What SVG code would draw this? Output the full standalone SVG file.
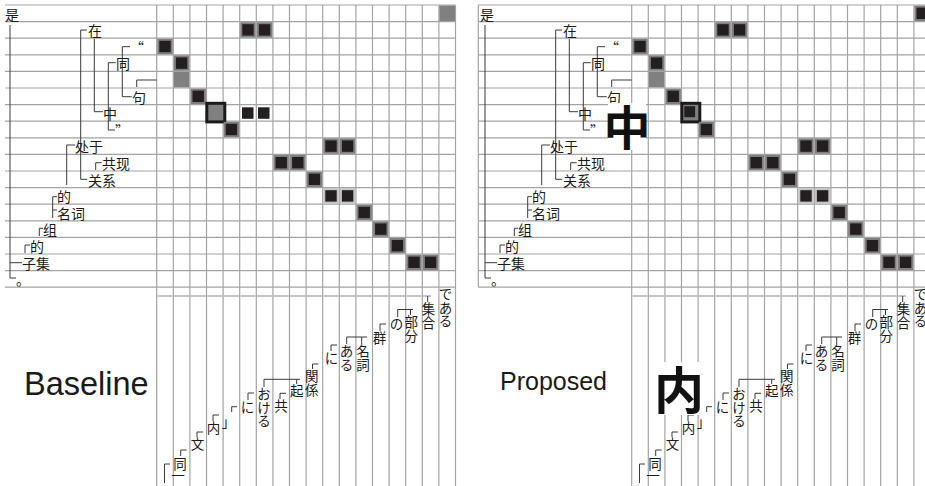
<svg xmlns="http://www.w3.org/2000/svg" width="925" height="486" viewBox="0 0 925 486">
<style>
.bg{fill:#fff}
.g{stroke:#a3a3a3;stroke-width:1.2;fill:none}
.t{stroke:#3a3a3a;stroke-width:1;fill:none}
.tr{stroke:#8a8a8a;stroke-width:1.2;fill:none;stroke-dasharray:15 1.6}
.zh{font-family:"Noto Sans CJK SC","Noto Sans CJK JP",sans-serif;font-size:14px;fill:#1a1a1a}
.jp{font-family:"Noto Sans CJK JP","Noto Sans CJK SC",sans-serif;font-size:13.5px;fill:#1a1a1a;text-anchor:middle}
.b{fill:#231f20;stroke:#7f7f7f;stroke-width:2}
.bl{fill:#231f20;stroke:#c4c4c4;stroke-width:2}
.gr{fill:#808080}
.k{fill:#231f20}
.sel{fill:#808080;stroke:#1a1a1a;stroke-width:3}
.lab{font-family:"Liberation Sans",Arial,sans-serif;fill:#1a1a1a}
.big{font-family:"Noto Sans CJK SC","Noto Sans CJK JP",sans-serif;font-weight:bold;fill:#111;text-anchor:middle}
</style>
<rect class="bg" x="0" y="0" width="925" height="486"/>

<!-- ================= BASELINE PANEL ================= -->
<g id="baseline">
  <g id="L-grid">
    <path class="g" d="M5,5H455.5M5,21.6H455.5M5,38.2H455.5M5,54.8H455.5M5,71.4H455.5M5,88H455.5M5,104.6H455.5M5,121.2H455.5M5,137.8H455.5M5,154.4H455.5M5,171H455.5M5,187.6H455.5M5,204.2H455.5M5,220.8H455.5M5,237.4H455.5M5,254H455.5M5,270.6H455.5M5,287.2H455.5"/>
    <path class="g" d="M156.7,5V486M173.3,5V486M189.9,5V486M206.5,5V486M223.1,5V486M239.7,5V486M256.3,5V486M272.9,5V486M289.5,5V486M306.1,5V486M322.7,5V486M339.3,5V486M355.9,5V486M372.5,5V486M389.1,5V486M405.7,5V486M422.3,5V486M438.9,5V486M455.5,5V486"/>
  </g>
  <g id="L-cells">
    <rect class="gr" x="439.4" y="5.5" width="15.6" height="15.6"/>
    <rect class="b" x="241.3" y="23.2" width="13.4" height="13.4"/>
    <rect class="b" x="257.9" y="23.2" width="13.4" height="13.4"/>
    <rect class="b" x="158.3" y="39.8" width="13.4" height="13.4"/>
    <rect class="b" x="174.9" y="56.4" width="13.4" height="13.4"/>
    <rect class="gr" x="173.9" y="72" width="15.4" height="15.4"/>
    <rect class="b" x="191.5" y="89.6" width="13.4" height="13.4"/>
    <rect class="sel" x="206.8" y="103.3" width="18" height="18.6"/>
    <rect class="k" x="242" y="107.3" width="11.5" height="11.5"/>
    <rect class="k" x="258" y="107.3" width="11.5" height="11.5"/>
    <rect class="b" x="224.7" y="122.8" width="13.4" height="13.4"/>
    <rect class="b" x="324.3" y="139.4" width="13.4" height="13.4"/>
    <rect class="b" x="340.9" y="139.4" width="13.4" height="13.4"/>
    <rect class="b" x="274.5" y="156" width="13.4" height="13.4"/>
    <rect class="b" x="291.1" y="156" width="13.4" height="13.4"/>
    <rect class="b" x="307.7" y="172.6" width="13.4" height="13.4"/>
    <rect class="bl" x="324.3" y="189.2" width="13.4" height="13.4"/>
    <rect class="bl" x="340.9" y="189.2" width="13.4" height="13.4"/>
    <rect class="b" x="357.5" y="205.8" width="13.4" height="13.4"/>
    <rect class="b" x="374.1" y="222.4" width="13.4" height="13.4"/>
    <rect class="b" x="390.7" y="239" width="13.4" height="13.4"/>
    <rect class="b" x="407.3" y="255.6" width="13.4" height="13.4"/>
    <rect class="b" x="423.9" y="255.6" width="13.4" height="13.4"/>
  </g>
  <g id="L-connectors">
    <path class="t" d="M10,25V278H16M10,262.7H22"/>
    <path class="t" d="M87,30H80.7V179.3H87.3"/>
    <path class="t" d="M94.3,39V111.7H103"/>
    <path class="t" d="M130,46.7H122.3V96.7H131.7"/>
    <path class="t" d="M115.7,62.7H108.3V130H115"/>
    <path class="t" d="M156.7,80H136.7V87"/>
    <path class="t" d="M75,145H66.7V185"/>
    <path class="t" d="M101.7,162.7H95.7V170"/>
    <path class="t" d="M57,196.7H52.7V218M52.7,210H57"/>
    <path class="t" d="M43,228.3H39.3V236"/>
    <path class="t" d="M30,245H25V253"/>
    <path class="tr" d="M157.5,296H431"/>
    <path class="t" d="M170,464H164.5V483"/>
    <path class="t" d="M186.7,450H180.7V456"/>
    <path class="t" d="M203,432H197V437"/>
    <path class="t" d="M219,415H213V421"/>
    <path class="t" d="M237,406.7H231.7V412"/>
    <path class="t" d="M254,393H248V400"/>
    <path class="t" d="M300,379.3H264V387M296.7,379.3V384"/>
    <path class="t" d="M286,393.3H280V399"/>
    <path class="t" d="M318.5,364H312.5V369"/>
    <path class="t" d="M337,345H331V351"/>
    <path class="t" d="M367,337H346.7V344M361.7,337V344"/>
    <path class="t" d="M386,324H380V331"/>
    <path class="t" d="M413,309.5H397.7V317M410.5,309.5V315"/>
    <path class="t" d="M427.7,296V302"/>
  </g>
  <g id="L-zh">
    <g id="L-z0"><text class="zh" x="5" y="19.6">是</text></g>
    <g id="L-z1"><text class="zh" x="88" y="36.2">在</text></g>
    <g id="L-z2"><text class="zh" x="130" y="52.8">“</text></g>
    <g id="L-z3"><text class="zh" x="116" y="69.4">同</text></g>
    <g id="L-z5"><text class="zh" x="132" y="102.6">句</text></g>
    <g id="L-z6"><text class="zh" x="103" y="119.2">中</text></g>
    <g id="L-z7"><text class="zh" x="115" y="135.8">”</text></g>
    <g id="L-z8"><text class="zh" x="75" y="152.4">处于</text></g>
    <g id="L-z9"><text class="zh" x="102" y="169">共现</text></g>
    <g id="L-z10"><text class="zh" x="88" y="185.6">关系</text></g>
    <g id="L-z11"><text class="zh" x="57" y="202.2">的</text></g>
    <g id="L-z12"><text class="zh" x="57" y="218.8">名词</text></g>
    <g id="L-z13"><text class="zh" x="43" y="235.4">组</text></g>
    <g id="L-z14"><text class="zh" x="30" y="252">的</text></g>
    <g id="L-z15"><text class="zh" x="22" y="268.6">子集</text></g>
    <g id="L-z16"><text class="zh" x="16" y="285.2">。</text></g>
  </g>
  <g id="L-jp">
    <g id="L-j0"><text class="jp" x="178" y="481">一</text></g>
    <g id="L-j1"><text class="jp" x="180" y="468.8">同</text></g>
    <g id="L-j2"><text class="jp" x="197.5" y="449.3">文</text></g>
    <g id="L-j3"><text class="jp" x="213.5" y="433">内</text></g>
    <g id="L-j4"><text class="jp" x="228.5" y="427">」</text></g>
    <g id="L-j5"><text class="jp" x="247.5" y="412.3">に</text></g>
    <g id="L-j6"><text class="jp" x="264" y="399.3"><tspan x="264" y="399.3">お</tspan><tspan x="264" y="412.8">け</tspan><tspan x="264" y="426.3">る</tspan></text></g>
    <g id="L-j7"><text class="jp" x="281" y="411.3">共</text></g>
    <g id="L-j8"><text class="jp" x="296.7" y="396.3">起</text></g>
    <g id="L-j9"><text class="jp" x="311.7" y="381.3"><tspan x="311.7" y="381.3">関</tspan><tspan x="311.7" y="394.8">係</tspan></text></g>
    <g id="L-j10"><text class="jp" x="331.5" y="363.3">に</text></g>
    <g id="L-j11"><text class="jp" x="346.5" y="356.3"><tspan x="346.5" y="356.3">あ</tspan><tspan x="346.5" y="369.8">る</tspan></text></g>
    <g id="L-j12"><text class="jp" x="363" y="356.3"><tspan x="363" y="356.3">名</tspan><tspan x="363" y="369.8">詞</tspan></text></g>
    <g id="L-j13"><text class="jp" x="379.5" y="343.3">群</text></g>
    <g id="L-j14"><text class="jp" x="396.5" y="329.3">の</text></g>
    <g id="L-j15"><text class="jp" x="411.3" y="327.3"><tspan x="411.3" y="327.3">部</tspan><tspan x="411.3" y="340.8">分</tspan></text></g>
    <g id="L-j16"><text class="jp" x="428.5" y="314.3"><tspan x="428.5" y="314.3">集</tspan><tspan x="428.5" y="327.8">合</tspan></text></g>
    <g id="L-j17"><text class="jp" x="445.5" y="299.3"><tspan x="445.5" y="299.3">で</tspan><tspan x="445.5" y="312.8">あ</tspan><tspan x="445.5" y="326.3">る</tspan></text></g>
  </g>
  <g id="L-label"><text class="lab" x="24" y="395" font-size="32.5">Baseline</text></g>
</g>

<!-- ================= PROPOSED PANEL ================= -->
<g id="proposed" transform="translate(475,0)">
  <g id="R-grid">
    <path class="g" d="M3.3,5H455.5M3.3,21.6H455.5M3.3,38.2H455.5M3.3,54.8H455.5M3.3,71.4H455.5M3.3,88H455.5M3.3,104.6H455.5M3.3,121.2H455.5M3.3,137.8H455.5M3.3,154.4H455.5M3.3,171H455.5M3.3,187.6H455.5M3.3,204.2H455.5M3.3,220.8H455.5M3.3,237.4H455.5M3.3,254H455.5M3.3,270.6H455.5M3.3,287.2H455.5"/>
    <path class="g" d="M3.3,5V287.2M156.7,5V486M173.3,5V486M189.9,5V486M206.5,5V486M223.1,5V486M239.7,5V486M256.3,5V486M272.9,5V486M289.5,5V486M306.1,5V486M322.7,5V486M339.3,5V486M355.9,5V486M372.5,5V486M389.1,5V486M405.7,5V486M422.3,5V486M438.9,5V486M455.5,5V486"/>
  </g>
  <g id="R-cells">
    <rect class="b" x="440.5" y="6.6" width="13.4" height="13.4"/>
    <rect class="b" x="241.3" y="23.2" width="13.4" height="13.4"/>
    <rect class="b" x="257.9" y="23.2" width="13.4" height="13.4"/>
    <rect class="b" x="158.3" y="39.8" width="13.4" height="13.4"/>
    <rect class="b" x="174.9" y="56.4" width="13.4" height="13.4"/>
    <rect class="gr" x="173.9" y="72" width="15.4" height="15.4"/>
    <rect class="b" x="191.5" y="89.6" width="13.4" height="13.4"/>
    <rect class="sel" x="206.8" y="103.3" width="18" height="18.6"/>
    <rect class="k" x="209.3" y="106.2" width="10.8" height="11"/>
    <rect class="b" x="224.7" y="122.8" width="13.4" height="13.4"/>
    <rect class="b" x="324.3" y="139.4" width="13.4" height="13.4"/>
    <rect class="b" x="340.9" y="139.4" width="13.4" height="13.4"/>
    <rect class="b" x="274.5" y="156" width="13.4" height="13.4"/>
    <rect class="b" x="291.1" y="156" width="13.4" height="13.4"/>
    <rect class="b" x="307.7" y="172.6" width="13.4" height="13.4"/>
    <rect class="bl" x="324.3" y="189.2" width="13.4" height="13.4"/>
    <rect class="bl" x="340.9" y="189.2" width="13.4" height="13.4"/>
    <rect class="b" x="357.5" y="205.8" width="13.4" height="13.4"/>
    <rect class="b" x="374.1" y="222.4" width="13.4" height="13.4"/>
    <rect class="b" x="390.7" y="239" width="13.4" height="13.4"/>
    <rect class="b" x="407.3" y="255.6" width="13.4" height="13.4"/>
    <rect class="b" x="423.9" y="255.6" width="13.4" height="13.4"/>
  </g>
  <g id="R-connectors">
    <path class="t" d="M10,25V278H16M10,262.7H22"/>
    <path class="t" d="M87,30H80.7V179.3H87.3"/>
    <path class="t" d="M94.3,39V111.7H103"/>
    <path class="t" d="M130,46.7H122.3V96.7H131.7"/>
    <path class="t" d="M115.7,62.7H108.3V130H115"/>
    <path class="t" d="M156.7,80H136.7V87"/>
    <path class="t" d="M75,145H66.7V185"/>
    <path class="t" d="M101.7,162.7H95.7V170"/>
    <path class="t" d="M57,196.7H52.7V218M52.7,210H57"/>
    <path class="t" d="M43,228.3H39.3V236"/>
    <path class="t" d="M30,245H25V253"/>
    <path class="tr" d="M157.5,296H431"/>
    <path class="t" d="M170,464H164.5V483"/>
    <path class="t" d="M186.7,450H180.7V456"/>
    <path class="t" d="M203,432H197V437"/>
    <path class="t" d="M219,415H213V421"/>
    <path class="t" d="M237,406.7H231.7V412"/>
    <path class="t" d="M254,393H248V400"/>
    <path class="t" d="M300,379.3H264V387M296.7,379.3V384"/>
    <path class="t" d="M286,393.3H280V399"/>
    <path class="t" d="M318.5,364H312.5V369"/>
    <path class="t" d="M337,345H331V351"/>
    <path class="t" d="M367,337H346.7V344M361.7,337V344"/>
    <path class="t" d="M386,324H380V331"/>
    <path class="t" d="M413,309.5H397.7V317M410.5,309.5V315"/>
    <path class="t" d="M427.7,296V302"/>
  </g>
  <g id="R-zh">
    <g id="R-z0"><text class="zh" x="5" y="19.6">是</text></g>
    <g id="R-z1"><text class="zh" x="88" y="36.2">在</text></g>
    <g id="R-z2"><text class="zh" x="130" y="52.8">“</text></g>
    <g id="R-z3"><text class="zh" x="116" y="69.4">同</text></g>
    <g id="R-z5"><text class="zh" x="132" y="102.6">句</text></g>
    <g id="R-z6"><text class="zh" x="103" y="119.2">中</text></g>
    <g id="R-z7"><text class="zh" x="115" y="135.8">”</text></g>
    <g id="R-z8"><text class="zh" x="75" y="152.4">处于</text></g>
    <g id="R-z9"><text class="zh" x="102" y="169">共现</text></g>
    <g id="R-z10"><text class="zh" x="88" y="185.6">关系</text></g>
    <g id="R-z11"><text class="zh" x="57" y="202.2">的</text></g>
    <g id="R-z12"><text class="zh" x="57" y="218.8">名词</text></g>
    <g id="R-z13"><text class="zh" x="43" y="235.4">组</text></g>
    <g id="R-z14"><text class="zh" x="30" y="252">的</text></g>
    <g id="R-z15"><text class="zh" x="22" y="268.6">子集</text></g>
    <g id="R-z16"><text class="zh" x="16" y="285.2">。</text></g>
  </g>
  <g id="R-jp">
    <g id="R-j0"><text class="jp" x="178" y="481">一</text></g>
    <g id="R-j1"><text class="jp" x="180" y="468.8">同</text></g>
    <g id="R-j2"><text class="jp" x="197.5" y="449.3">文</text></g>
    <g id="R-j3"><text class="jp" x="213.5" y="433">内</text></g>
    <g id="R-j4"><text class="jp" x="228.5" y="427">」</text></g>
    <g id="R-j5"><text class="jp" x="247.5" y="412.3">に</text></g>
    <g id="R-j6"><text class="jp" x="264" y="399.3"><tspan x="264" y="399.3">お</tspan><tspan x="264" y="412.8">け</tspan><tspan x="264" y="426.3">る</tspan></text></g>
    <g id="R-j7"><text class="jp" x="281" y="411.3">共</text></g>
    <g id="R-j8"><text class="jp" x="296.7" y="396.3">起</text></g>
    <g id="R-j9"><text class="jp" x="311.7" y="381.3"><tspan x="311.7" y="381.3">関</tspan><tspan x="311.7" y="394.8">係</tspan></text></g>
    <g id="R-j10"><text class="jp" x="331.5" y="363.3">に</text></g>
    <g id="R-j11"><text class="jp" x="346.5" y="356.3"><tspan x="346.5" y="356.3">あ</tspan><tspan x="346.5" y="369.8">る</tspan></text></g>
    <g id="R-j12"><text class="jp" x="363" y="356.3"><tspan x="363" y="356.3">名</tspan><tspan x="363" y="369.8">詞</tspan></text></g>
    <g id="R-j13"><text class="jp" x="379.5" y="343.3">群</text></g>
    <g id="R-j14"><text class="jp" x="396.5" y="329.3">の</text></g>
    <g id="R-j15"><text class="jp" x="411.3" y="327.3"><tspan x="411.3" y="327.3">部</tspan><tspan x="411.3" y="340.8">分</tspan></text></g>
    <g id="R-j16"><text class="jp" x="428.5" y="314.3"><tspan x="428.5" y="314.3">集</tspan><tspan x="428.5" y="327.8">合</tspan></text></g>
    <g id="R-j17"><text class="jp" x="445.5" y="299.3"><tspan x="445.5" y="299.3">で</tspan><tspan x="445.5" y="312.8">あ</tspan><tspan x="445.5" y="326.3">る</tspan></text></g>
  </g>
  <g id="R-overlay-zh">
    <rect class="bg" x="133" y="103" width="38" height="47"/>
    <text class="big" x="152" y="145" font-size="47">中</text>
  </g>
  <g id="R-overlay-jp">
    <rect class="bg" x="179" y="362" width="50" height="53"/>
    <text class="big" x="204" y="409" font-size="50">内</text>
  </g>
  <g id="R-label"><text class="lab" x="25" y="390" font-size="25">Proposed</text></g>
</g>
</svg>
